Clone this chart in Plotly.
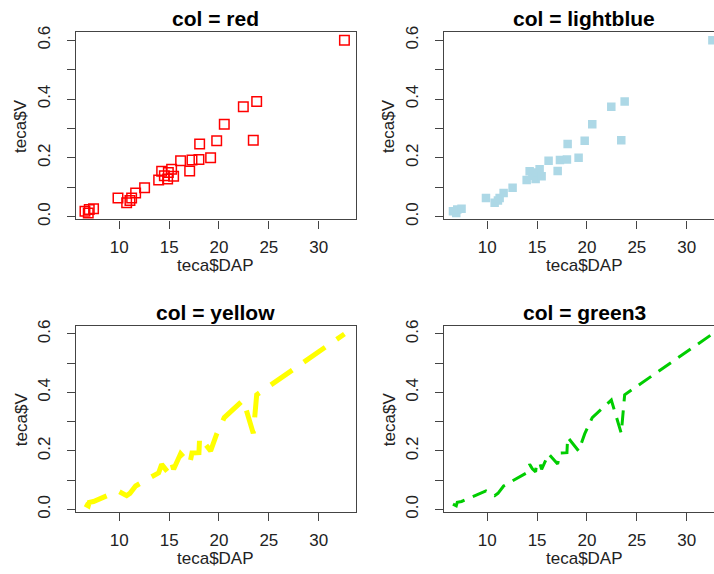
import plotly.graph_objects as go

# data (teca$DAP, teca$V), ordered as in the data set
dap = [6.56, 6.89, 6.99, 7.42, 9.87, 10.74, 11.07, 11.24, 11.64, 12.54,
       13.95, 14.25, 14.52, 14.85, 14.92, 15.25, 15.45, 16.15, 17.06, 17.29,
       17.99, 18.06, 19.16, 19.77, 20.53, 22.44, 23.44, 23.78, 32.58]
vol = [0.018, 0.012, 0.024, 0.027, 0.063, 0.047, 0.055, 0.063, 0.080, 0.098,
       0.125, 0.154, 0.139, 0.128, 0.150, 0.161, 0.137, 0.190, 0.155, 0.193,
       0.194, 0.247, 0.200, 0.258, 0.314, 0.374, 0.260, 0.392, 0.600]

titles = ["col = red", "col = lightblue", "col = yellow", "col = green3"]
x_ticks = [10, 15, 20, 25, 30]
y_ticks = [0.0, 0.1, 0.2, 0.3, 0.4, 0.5, 0.6]
y_ticktext = ["0.0", "", "0.2", "", "0.4", "", "0.6"]
x_label = "teca$DAP"
y_label = "teca$V"

W, H = 714, 574
FONT = "Liberation Sans, Arial, sans-serif"
BOX = "#444444"

# panel boxes in pixels (left, top, right, bottom)
boxes = [(76, 27, 356, 218), (444, 27, 714, 218),
         (76, 327, 356, 517), (444, 327, 714, 517)]
xranges = [[5.66, 33.74], [5.66, 32.74], [5.66, 33.74], [5.66, 32.74]]
yrange = [-0.0096, 0.6266]

fig = go.Figure()

fig.add_trace(go.Scatter(x=dap, y=vol, mode="markers", xaxis="x", yaxis="y",
                         marker=dict(symbol="square-open", size=9.5, color="#FF0000",
                                     line=dict(width=1.5, color="#FF0000")),
                         showlegend=False))
fig.add_trace(go.Scatter(x=dap, y=vol, mode="markers", xaxis="x2", yaxis="y2",
                         marker=dict(symbol="square", size=8.5, color="#ADD8E6"),
                         showlegend=False))
fig.add_trace(go.Scatter(x=dap, y=vol, mode="lines", xaxis="x3", yaxis="y3",
                         line=dict(color="#FFFF00", width=5, dash="26px,14px"),
                         showlegend=False))
fig.add_trace(go.Scatter(x=dap, y=vol, mode="lines", xaxis="x4", yaxis="y4",
                         line=dict(color="#00CD00", width=3, dash="15px,9px"),
                         showlegend=False))

layout = dict(width=W, height=H, margin=dict(l=0, r=0, t=0, b=0),
              paper_bgcolor="white", plot_bgcolor="white",
              font=dict(family=FONT, color="black"))
annotations = []
for i, (l, t, r, b) in enumerate(boxes):
    sfx = "" if i == 0 else str(i + 1)
    right_panel = i % 2 == 1
    layout["xaxis" + sfx] = dict(
        domain=[l / W, r / W], range=xranges[i], anchor="y" + sfx,
        tickvals=x_ticks, ticks="outside", ticklen=8, tickwidth=1.3, tickcolor=BOX,
        showline=True, mirror=True, linecolor=BOX, linewidth=1.3,
        showgrid=False, zeroline=False, tickfont=dict(size=17, color="#222"),
        ticklabelstandoff=4)
    layout["yaxis" + sfx] = dict(
        domain=[1 - b / H, 1 - t / H], range=yrange, anchor="x" + sfx,
        tickvals=y_ticks, ticktext=y_ticktext, ticks="outside", ticklen=8,
        tickwidth=1.3, tickcolor=BOX, tickangle=-90,
        showline=True, mirror=not right_panel, linecolor=BOX, linewidth=1.3,
        showgrid=False, zeroline=False, tickfont=dict(size=17, color="#222"),
        ticklabelstandoff=10)
    cx_px = (l + (r + 10 if right_panel else r)) / 2
    cy_px = (t + b) / 2
    annotations.append(dict(text="<b>" + titles[i] + "</b>", xref="paper", yref="paper",
                            x=cx_px / W, y=1 - (t - 14) / H, xanchor="center", yanchor="middle",
                            showarrow=False, font=dict(size=21, color="black")))
    annotations.append(dict(text=x_label, xref="paper", yref="paper",
                            x=cx_px / W, y=1 - (b + 47) / H, xanchor="center", yanchor="middle",
                            showarrow=False, font=dict(size=17, color="#222")))
    annotations.append(dict(text=y_label, xref="paper", yref="paper", textangle=-90,
                            x=(l - 55) / W, y=1 - cy_px / H, xanchor="center", yanchor="middle",
                            showarrow=False, font=dict(size=17, color="#222")))
layout["annotations"] = annotations
fig.update_layout(**layout)

fig.write_html("out.html")
